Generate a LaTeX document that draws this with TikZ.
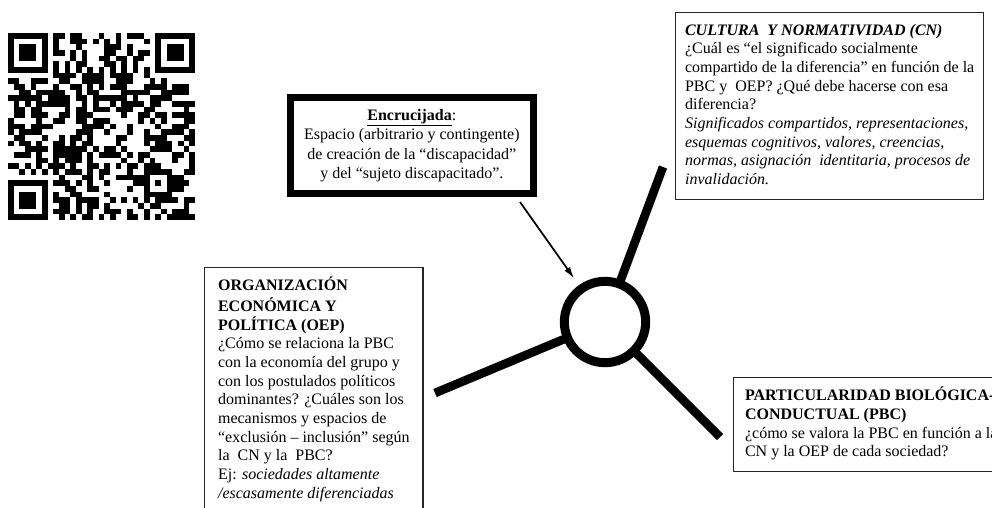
\documentclass[tikz,border=0pt]{standalone}
\usepackage{fontspec}
\setmainfont{Liberation Serif}
\usetikzlibrary{arrows.meta}

\tikzset{
  txtbox/.style={draw=black!85, line width=1.1pt, anchor=north west, align=left,
    inner xsep=7pt, inner ysep=7pt, font=\fontsize{12}{14}\selectfont},
  encrbox/.style={draw, line width=5.25pt, anchor=north west, align=center,
    minimum width=182pt, minimum height=72pt, inner sep=2pt,
    font=\fontsize{12}{14.5}\selectfont},
  hubring/.style={circle, draw, fill=white, line width=6.75pt, minimum size=61pt, inner sep=0pt},
  spoke/.style={line width=6.5pt},
}

\begin{document}
\begin{tikzpicture}[x=0.75pt, y=-0.75pt, >={Latex[length=9pt,width=5pt]}]
  \useasboundingbox (0,0) rectangle (992,507);
  \clip (0,0) rectangle (992,507);

  % QR code
  \begin{scope}[shift={(8,33)}, x=4.25pt, y=-4.25pt]
    \pgfmathsetseed{2718}
    \foreach \qx/\qy in {0/0, 26/0, 0/26}{
      \fill (\qx,\qy) rectangle ++(7,7);
      \fill[white] (\qx+1,\qy+1) rectangle ++(5,5);
      \fill (\qx+2,\qy+2) rectangle ++(3,3);
    }
    \fill (24,24) rectangle ++(5,5);
    \fill[white] (25,25) rectangle ++(3,3);
    \fill (26,26) rectangle ++(1,1);
    \foreach \k in {8,10,...,24}{
      \fill (\k,6) rectangle ++(1,1);
      \fill (6,\k) rectangle ++(1,1);
    }
    \foreach \i in {0,...,32}{
      \foreach \j in {0,...,32}{
        \pgfmathtruncatemacro{\qrin}{(\i<8)*(\j<8)+(\i>24)*(\j<8)+(\i<8)*(\j>24)+(\i>23)*(\i<29)*(\j>23)*(\j<29)+(\i==6)+(\j==6)}
        \pgfmathtruncatemacro{\qrbit}{rnd<0.5}
        \ifnum\qrin=0 \ifnum\qrbit=1 \fill (\i,\j) rectangle ++(1.02,1.02); \fi\fi
      }
    }
  \end{scope}

  % crossroads
  \coordinate (hubc) at (605,322);
  \coordinate (cnEnd) at (663,167);
  \coordinate (oepEnd) at (435,393);
  \coordinate (pbcEnd) at (720,437);
  \draw[spoke] (hubc) -- (cnEnd);
  \draw[spoke] (hubc) -- (oepEnd);
  \draw[spoke] (hubc) -- (pbcEnd);
  \node[hubring] (hub) at (hubc) {};

  \node[encrbox] (encr) at (287,94) {\strut\textbf{\underline{Encrucijada}}:\\
    Espacio (arbitrario y contingente)\\
    de creación de la “discapacidad”\\
    y del “sujeto discapacitado”.\strut};
  \coordinate (arrowTail) at (520,202);
  \draw[->, line width=1.3pt, shorten >=6pt] (arrowTail) -- (hub);

  \node[txtbox] (cn) at (675,12) {\strut\textbf{\textit{CULTURA\ \ Y NORMATIVIDAD (CN)}}\\
    ¿Cuál es “el significado socialmente\\
    compartido de la diferencia” en función de la\\
    PBC y\ \ OEP? ¿Qué debe hacerse con esa\\
    diferencia?\\
    \textit{Significados compartidos, representaciones,}\\
    \textit{esquemas cognitivos, valores, creencias,}\\
    \textit{normas, asignación\ \ identitaria, procesos de}\\
    \textit{invalidación.}\strut};

  \node[txtbox, inner xsep=10pt] (oep) at (204,267) {\strut\textbf{ORGANIZACIÓN}\\
    \textbf{ECONÓMICA Y}\\
    \textbf{POLÍTICA (OEP)}\\
    ¿Cómo se relaciona la PBC\\
    con la economía del grupo y\\
    con los postulados políticos\\
    dominantes? ¿Cuáles son los\\
    mecanismos y espacios de\\
    “exclusión – inclusión” según\\
    la\ \ CN y la\ \ PBC?\\
    Ej: \textit{sociedades altamente}\\
    \textit{/escasamente diferenciadas}\strut};

  \node[txtbox, inner xsep=8.5pt] (pbc) at (733,377) {\strut\textbf{PARTICULARIDAD BIOLÓGICA-}\\
    \textbf{CONDUCTUAL (PBC)}\\
    ¿cómo se valora la PBC en función a la\\
    CN y la OEP de cada sociedad?\strut};
\end{tikzpicture}
\end{document}
